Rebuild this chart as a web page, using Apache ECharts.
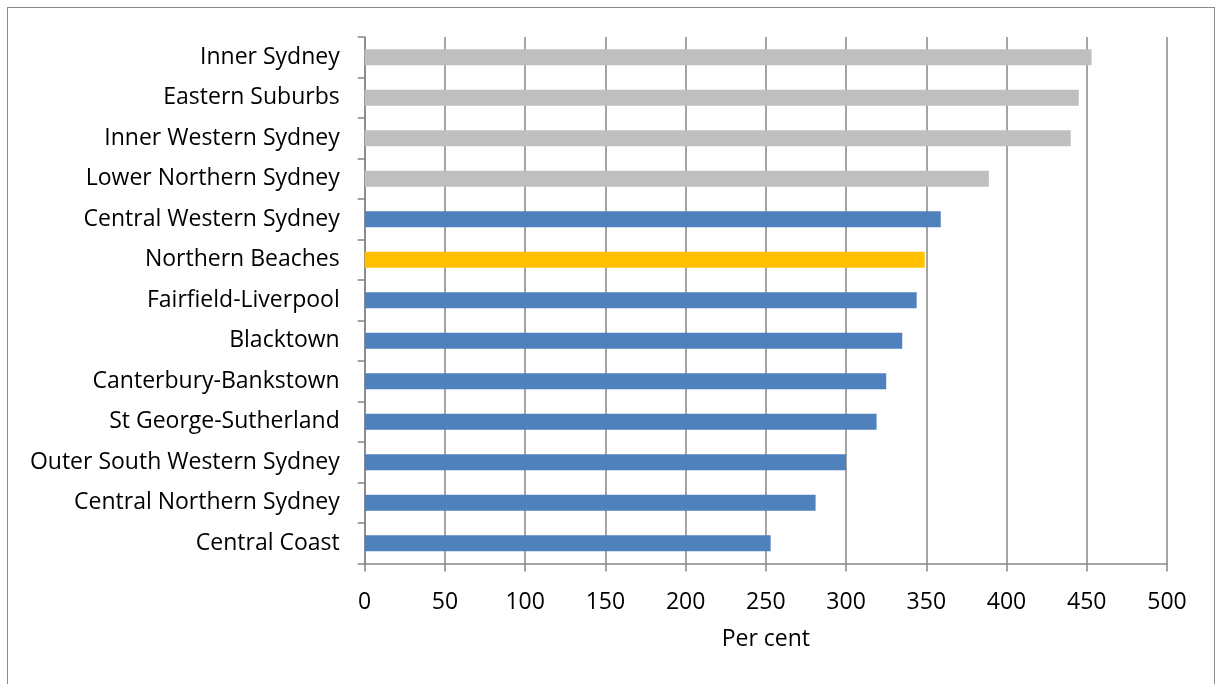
<!DOCTYPE html>
<html>
<head>
<meta charset="utf-8">
<script src="https://cdn.jsdelivr.net/npm/echarts@6/dist/echarts.min.js"></script>
<style>
  html, body { margin: 0; padding: 0; background: #fff; }
  #frame { position: absolute; left: 7px; top: 7px; width: 1208px; height: 700px; border: 1px solid #8a8a8a; box-sizing: border-box; }
  #chart { position: absolute; left: 0; top: 0; width: 1222px; height: 684px; }
</style>
</head>
<body>
<div id="frame"></div>
<div id="chart"></div>
<script>
// Regions, top to bottom
const regions = [
  'Inner Sydney', 'Eastern Suburbs', 'Inner Western Sydney', 'Lower Northern Sydney',
  'Central Western Sydney', 'Northern Beaches', 'Fairfield-Liverpool', 'Blacktown',
  'Canterbury-Bankstown', 'St George-Sutherland', 'Outer South Western Sydney',
  'Central Northern Sydney', 'Central Coast'
];
// Per cent value for each region
const perCent = [453, 445, 440, 389, 359, 349, 344, 335, 325, 319, 300, 281, 253];
// Regions drawn in grey, and the one picked out in gold
const greyRegions = ['Inner Sydney', 'Eastern Suburbs', 'Inner Western Sydney', 'Lower Northern Sydney'];
const highlightRegion = 'Northern Beaches';
const xTicks = [0, 50, 100, 150, 200, 250, 300, 350, 400, 450, 500];

const FONT = 'Open Sans';
const FONT_SIZE = 23;
const chart = echarts.init(document.getElementById('chart'), null, { renderer: 'canvas' });

chart.setOption({
  animation: false,
  grid: { left: 364.7, right: 55, top: 37, bottom: 120.5 },
  xAxis: {
    type: 'value',
    min: xTicks[0],
    max: xTicks[xTicks.length - 1],
    interval: xTicks[1] - xTicks[0],
    name: 'Per cent',
    nameLocation: 'middle',
    nameGap: 64,
    nameTextStyle: { fontFamily: FONT, fontSize: FONT_SIZE, color: '#000' },
    axisLine: { show: true, lineStyle: { color: '#868686', width: 1.5 } },
    axisTick: { show: true, length: 8, lineStyle: { color: '#868686', width: 1.5 } },
    axisLabel: { margin: 27, fontFamily: FONT, fontSize: FONT_SIZE, color: '#000' },
    splitLine: { show: true, lineStyle: { color: '#868686', width: 1.5 } }
  },
  yAxis: {
    type: 'category',
    inverse: true,
    data: regions,
    axisLine: { show: true, lineStyle: { color: '#868686', width: 1.5 } },
    axisTick: { show: true, length: 7, lineStyle: { color: '#868686', width: 1.5 } },
    axisLabel: { margin: 25, padding: [2, 0, 0, 0], fontFamily: FONT, fontSize: FONT_SIZE, color: '#000' }
  },
  series: [{
    type: 'bar',
    data: perCent,
    barWidth: 16,
    itemStyle: {
      color: function (p) {
        if (p.name === highlightRegion) return '#FFC000';
        if (greyRegions.indexOf(p.name) >= 0) return '#BFBFBF';
        return '#4F81BD';
      }
    }
  }]
});
</script>
</body>
</html>
